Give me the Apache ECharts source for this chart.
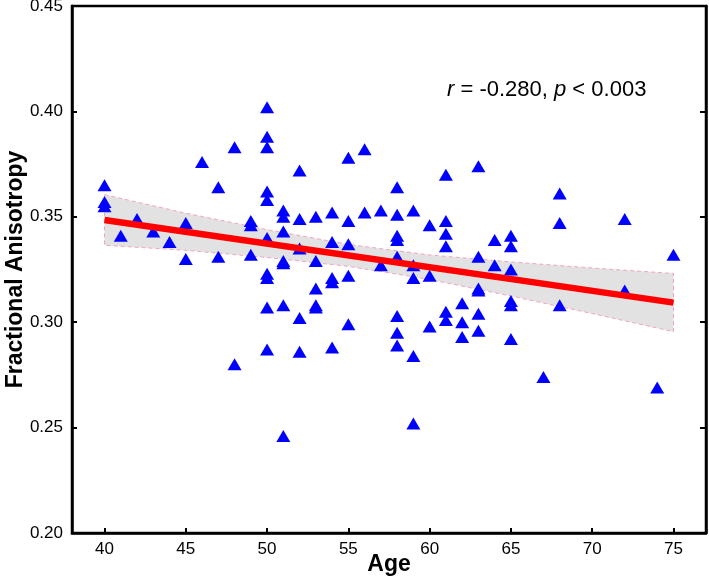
<!DOCTYPE html>
<html>
<head>
<meta charset="utf-8">
<script src="https://cdn.jsdelivr.net/npm/echarts@6/dist/echarts.min.js"></script>
<style>html,body{margin:0;padding:0;background:#fff;}#c{width:709px;height:584px;}</style>
</head>
<body>
<div id="c"></div>
<script>
// Scatter data: age and fractional anisotropy
const ages = [
  40,40,40,41,42,43,44,45,45,46,47,47,48,48,49,49,49,
  50,50,50,50,50,50,50,50,50,50,
  51,51,51,51,51,51,51,
  52,52,52,52,52,
  53,53,53,53,53,
  54,54,54,54,54,
  55,55,55,55,55,
  56,56,57,57,
  58,58,58,58,58,58,58,58,
  59,59,59,59,59,
  60,60,60,
  61,61,61,61,61,61,
  62,62,62,
  63,63,63,63,63,63,
  64,64,
  65,65,65,65,65,65,
  67,68,68,68,72,72,74,75
];
const fa = [
  0.365,0.357,0.355,0.341,0.349,0.343,0.338,0.347,0.330,0.376,0.364,0.331,0.383,0.280,0.348,0.346,0.332,
  0.402,0.388,0.383,0.362,0.358,0.340,0.323,0.321,0.307,0.287,
  0.353,0.350,0.343,0.329,0.328,0.308,0.246,
  0.372,0.349,0.335,0.302,0.286,
  0.350,0.329,0.316,0.308,0.307,
  0.352,0.338,0.321,0.319,0.288,
  0.378,0.348,0.337,0.322,0.299,
  0.382,0.352,0.353,0.327,
  0.364,0.351,0.341,0.339,0.331,0.303,0.295,0.289,
  0.353,0.327,0.321,0.284,0.252,
  0.346,0.322,0.298,
  0.370,0.348,0.342,0.336,0.305,0.301,
  0.309,0.300,0.293,
  0.374,0.331,0.316,0.315,0.304,0.296,
  0.339,0.327,
  0.341,0.336,0.325,0.310,0.308,0.292,
  0.274,0.361,0.347,0.308,0.349,0.315,0.269,0.332
];
// Regression line
const fitX = [40, 75];
const fitY = [0.3485, 0.3093];
// Confidence band
const bandX = [40, 45, 50, 55, 60, 65, 70, 75];
const bandUpper = [0.3605, 0.3517, 0.3439, 0.3369, 0.3319, 0.3286, 0.3257, 0.3231];
const bandLower = [0.3365, 0.3341, 0.3307, 0.3265, 0.3203, 0.3124, 0.3041, 0.2955];
// Ticks
const xTicks = [40, 45, 50, 55, 60, 65, 70, 75];

const FONT = "'Liberation Sans', Arial, sans-serif";
const chart = echarts.init(document.getElementById('c'));
const scatterData = ages.map((a, i) => [a, fa[i]]);
const fitData = fitX.map((x, i) => [x, fitY[i]]);

chart.setOption({
  animation: false,
  grid: { left: 72, right: 3, top: 6, bottom: 51, outerBoundsMode: 'none', containLabel: false,
          show: true, borderColor: '#000', borderWidth: 2.5, backgroundColor: 'transparent' },
  xAxis: [{
    type: 'value', min: 38, max: 77,
    name: 'Age', nameLocation: 'middle', nameGap: 20, nameMoveOverlap: false,
    nameTextStyle: { fontFamily: FONT, fontWeight: 'bold', fontSize: 23, color: '#000', verticalAlign: 'top' },
    axisLine: { show: true, lineStyle: { color: '#000', width: 2.5 } },
    axisTick: { show: true, inside: true, length: 5, lineStyle: { color: '#000', width: 2 }, customValues: xTicks },
    axisLabel: { color: '#000', fontFamily: FONT, fontSize: 17, margin: 8, customValues: xTicks },
    splitLine: { show: false }
  }],
  yAxis: [{
    type: 'value', min: 0.2, max: 0.45, interval: 0.05,
    name: 'Fractional Anisotropy', nameLocation: 'middle', nameGap: 45, nameMoveOverlap: false,
    nameTextStyle: { fontFamily: FONT, fontWeight: 'bold', fontSize: 23, color: '#000' },
    axisLine: { show: true, lineStyle: { color: '#000', width: 2.5 } },
    axisTick: { show: true, inside: true, length: 5, lineStyle: { color: '#000', width: 2 } },
    axisLabel: { color: '#000', fontFamily: FONT, fontSize: 17, margin: 9, formatter: v => v.toFixed(2) },
    splitLine: { show: false }
  }, {
    type: 'value', min: 0.2, max: 0.45, interval: 0.05, position: 'right',
    axisLine: { show: true, lineStyle: { color: '#000', width: 2.5 } },
    axisTick: { show: true, inside: true, length: 6, lineStyle: { color: '#000', width: 2 } },
    axisLabel: { show: false },
    splitLine: { show: false }
  }],
  graphic: [{
    type: 'text', left: 447, top: 79,
    style: {
      text: '{i|r} = -0.280, {i|p} < 0.003',
      font: "22px 'Liberation Sans', Arial, sans-serif",
      fill: '#000',
      rich: { i: { fontStyle: 'italic', fontSize: 22, fontFamily: FONT, fill: '#000' } }
    }
  }],
  series: [{
    type: 'custom',
    data: [[bandX[0], bandUpper[0]]],
    z: 1,
    renderItem: function (params, api) {
      const pts = [];
      for (let i = 0; i < bandX.length; i++) pts.push(api.coord([bandX[i], bandUpper[i]]));
      for (let i = bandX.length - 1; i >= 0; i--) pts.push(api.coord([bandX[i], bandLower[i]]));
      return {
        type: 'polygon',
        shape: { points: pts },
        style: { fill: '#e2e2e2', stroke: '#f2a2c6', lineWidth: 1, lineDash: [4, 3] }
      };
    }
  }, {
    type: 'scatter',
    data: scatterData,
    symbol: 'triangle',
    symbolSize: [14, 12],
    itemStyle: { color: '#0000ff', opacity: 1 },
    z: 2
  }, {
    type: 'line',
    data: fitData,
    symbol: 'none',
    lineStyle: { color: '#ff0000', width: 6.5 },
    z: 3
  }]
});
</script>
</body>
</html>
